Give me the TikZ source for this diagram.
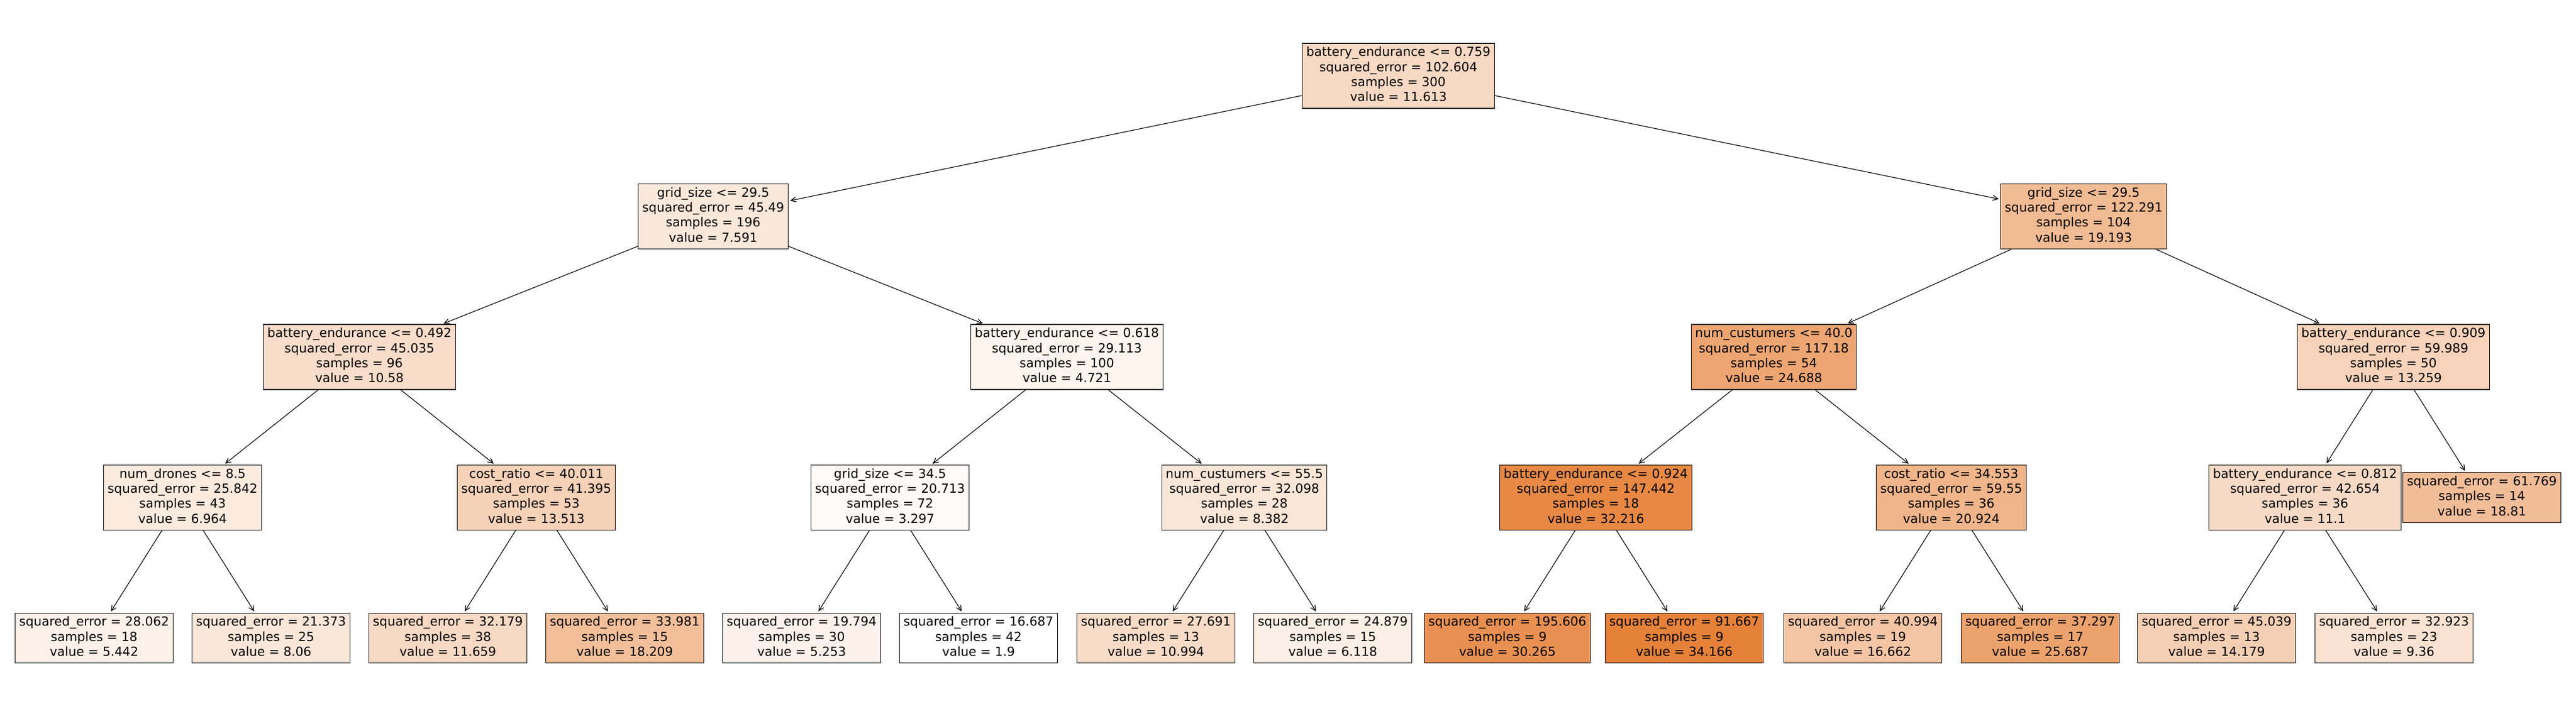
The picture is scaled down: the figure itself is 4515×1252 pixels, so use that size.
\documentclass[tikz,border=0pt]{standalone}
\usepackage{fontspec}
\setmainfont{DejaVu Sans}
\usetikzlibrary{arrows.meta}
\definecolor{skor}{RGB}{229,129,57}
\newcommand{\tl}[1]{\strut #1}
\tikzset{
  tnode/.style={draw=black, line width=0.6pt, rectangle, align=center,
    inner xsep=3.5pt, inner ysep=2.1pt,
    font=\fontsize{11}{13.2}\selectfont, fill=skor!#1!white},
  edge/.style={draw=black, line width=0.6pt, shorten >=1.5pt,
    -{Straight Barb[length=4.5pt,width=4.4pt]}}
}
\begin{document}
\begin{tikzpicture}[x=0.5pt,y=-0.5pt]
\useasboundingbox[fill=white] (0,0) rectangle (4515,1252);
% depth 0
\node[tnode=30] (r) at (2451,133) {\tl{battery\_endurance <= 0.759}\\\tl{squared\_error = 102.604}\\\tl{samples = 300}\\\tl{value = 11.613}};
% depth 1
\node[tnode=18] (a) at (1250,379.5) {\tl{grid\_size <= 29.5}\\\tl{squared\_error = 45.49}\\\tl{samples = 196}\\\tl{value = 7.591}};
\node[tnode=54] (b) at (3652,379.5) {\tl{grid\_size <= 29.5}\\\tl{squared\_error = 122.291}\\\tl{samples = 104}\\\tl{value = 19.193}};
% depth 2
\node[tnode=27] (aa) at (630,626) {\tl{battery\_endurance <= 0.492}\\\tl{squared\_error = 45.035}\\\tl{samples = 96}\\\tl{value = 10.58}};
\node[tnode=9] (ab) at (1870,626) {\tl{battery\_endurance <= 0.618}\\\tl{squared\_error = 29.113}\\\tl{samples = 100}\\\tl{value = 4.721}};
\node[tnode=71] (ba) at (3109,626) {\tl{num\_custumers <= 40.0}\\\tl{squared\_error = 117.18}\\\tl{samples = 54}\\\tl{value = 24.688}};
\node[tnode=35] (bb) at (4195,626) {\tl{battery\_endurance <= 0.909}\\\tl{squared\_error = 59.989}\\\tl{samples = 50}\\\tl{value = 13.259}};
% depth 3
\node[tnode=16] (aaa) at (320,872.5) {\tl{num\_drones <= 8.5}\\\tl{squared\_error = 25.842}\\\tl{samples = 43}\\\tl{value = 6.964}};
\node[tnode=36] (aab) at (940,872.5) {\tl{cost\_ratio <= 40.011}\\\tl{squared\_error = 41.395}\\\tl{samples = 53}\\\tl{value = 13.513}};
\node[tnode=4] (aba) at (1560,872.5) {\tl{grid\_size <= 34.5}\\\tl{squared\_error = 20.713}\\\tl{samples = 72}\\\tl{value = 3.297}};
\node[tnode=20] (abb) at (2181,872.5) {\tl{num\_custumers <= 55.5}\\\tl{squared\_error = 32.098}\\\tl{samples = 28}\\\tl{value = 8.382}};
\node[tnode=94] (baa) at (2797,872.5) {\tl{battery\_endurance <= 0.924}\\\tl{squared\_error = 147.442}\\\tl{samples = 18}\\\tl{value = 32.216}};
\node[tnode=59] (bab) at (3420,872.5) {\tl{cost\_ratio <= 34.553}\\\tl{squared\_error = 59.55}\\\tl{samples = 36}\\\tl{value = 20.924}};
\node[tnode=29] (bba) at (4040,872.5) {\tl{battery\_endurance <= 0.812}\\\tl{squared\_error = 42.654}\\\tl{samples = 36}\\\tl{value = 11.1}};
\node[tnode=52] (bbb) at (4350,872.5) {\tl{squared\_error = 61.769}\\\tl{samples = 14}\\\tl{value = 18.81}};
% depth 4 (leaves)
\node[tnode=11] (l1) at (165,1119) {\tl{squared\_error = 28.062}\\\tl{samples = 18}\\\tl{value = 5.442}};
\node[tnode=19] (l2) at (475,1119) {\tl{squared\_error = 21.373}\\\tl{samples = 25}\\\tl{value = 8.06}};
\node[tnode=30] (l3) at (785,1119) {\tl{squared\_error = 32.179}\\\tl{samples = 38}\\\tl{value = 11.659}};
\node[tnode=51] (l4) at (1095,1119) {\tl{squared\_error = 33.981}\\\tl{samples = 15}\\\tl{value = 18.209}};
\node[tnode=10] (l5) at (1405,1119) {\tl{squared\_error = 19.794}\\\tl{samples = 30}\\\tl{value = 5.253}};
\node[tnode=0] (l6) at (1715,1119) {\tl{squared\_error = 16.687}\\\tl{samples = 42}\\\tl{value = 1.9}};
\node[tnode=28] (l7) at (2026,1119) {\tl{squared\_error = 27.691}\\\tl{samples = 13}\\\tl{value = 10.994}};
\node[tnode=13] (l8) at (2336,1119) {\tl{squared\_error = 24.879}\\\tl{samples = 15}\\\tl{value = 6.118}};
\node[tnode=88] (l9) at (2642,1119) {\tl{squared\_error = 195.606}\\\tl{samples = 9}\\\tl{value = 30.265}};
\node[tnode=100] (l10) at (2952,1119) {\tl{squared\_error = 91.667}\\\tl{samples = 9}\\\tl{value = 34.166}};
\node[tnode=46] (l11) at (3265,1119) {\tl{squared\_error = 40.994}\\\tl{samples = 19}\\\tl{value = 16.662}};
\node[tnode=74] (l12) at (3576,1119) {\tl{squared\_error = 37.297}\\\tl{samples = 17}\\\tl{value = 25.687}};
\node[tnode=38] (l13) at (3885,1119) {\tl{squared\_error = 45.039}\\\tl{samples = 13}\\\tl{value = 14.179}};
\node[tnode=23] (l14) at (4196,1119) {\tl{squared\_error = 32.923}\\\tl{samples = 23}\\\tl{value = 9.36}};
% edges
\foreach \p/\c in {r/a, r/b, a/aa, a/ab, b/ba, b/bb,
  aa/aaa, aa/aab, ab/aba, ab/abb, ba/baa, ba/bab, bb/bba, bb/bbb,
  aaa/l1, aaa/l2, aab/l3, aab/l4, aba/l5, aba/l6, abb/l7, abb/l8,
  baa/l9, baa/l10, bab/l11, bab/l12, bba/l13, bba/l14}
  \draw[edge] (\p) -- (\c);
\end{tikzpicture}
\end{document}
